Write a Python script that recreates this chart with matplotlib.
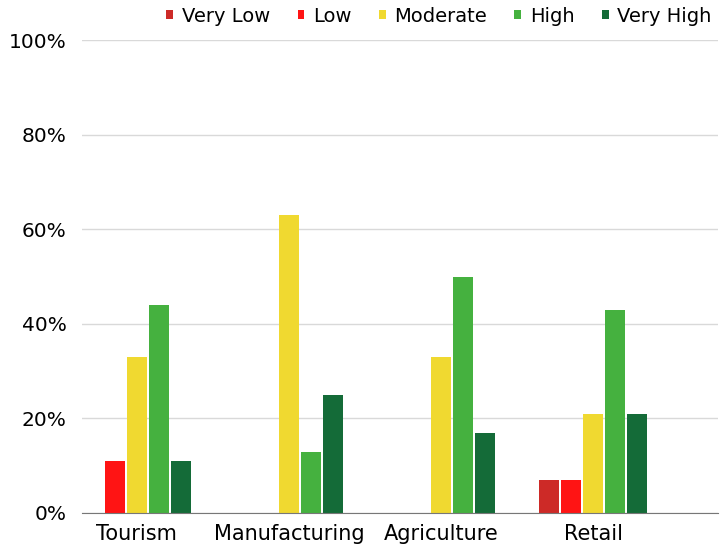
import matplotlib.pyplot as plt
import numpy as np

# data
categories = ["Tourism", "Manufacturing", "Agriculture", "Retail"]
levels = ["Very Low", "Low", "Moderate", "High", "Very High"]
very_low = [0, 0, 0, 7]
low = [11, 0, 0, 7]
moderate = [33, 63, 33, 21]
high = [44, 13, 50, 43]
very_high = [11, 25, 17, 21]
colors = ["#CD2A27", "#FF1414", "#F0D930", "#45B13F", "#146B38"]

plt.rcParams['font.family'] = ['DejaVu Sans']

fig = plt.figure(figsize=(7.2, 5.48), dpi=100)
ax = fig.add_axes([82/720, 1-513/548, (718-82)/720, (513-40)/548])

x = np.arange(len(categories))
w = 20/152
pitch = 22/152
series = [very_low, low, moderate, high, very_high]
for i, (name, vals, c) in enumerate(zip(levels, series, colors)):
    ax.bar(x + (i-2)*pitch, vals, width=w, color=c, label=name, zorder=3)

ax.set_xlim(-0.36, 3.82)
ax.set_ylim(0, 100)
ax.set_yticks(range(0, 101, 20))
ax.set_yticklabels([f"{v}%" for v in range(0, 101, 20)], fontsize=14.5)
ax.set_xticks(x)
ax.set_xticklabels(categories, fontsize=15)
ax.tick_params(length=0)
ax.tick_params(axis='y', pad=11)
ax.tick_params(axis='x', pad=8)
ax.grid(axis='y', color='#d9d9d9', linewidth=1, zorder=0)
for s in ['top', 'right', 'left']:
    ax.spines[s].set_visible(False)
ax.spines['bottom'].set_color('#777777')
ax.spines['bottom'].set_zorder(4)

ax.legend(loc='lower right', bbox_to_anchor=(0.99, 1.03), ncol=5, frameon=False,
          fontsize=14, handlelength=0.35, handleheight=0.35, handletextpad=0.45,
          columnspacing=1.4, borderaxespad=0.0, borderpad=0.0)

fig.savefig("out.png", dpi=100)
